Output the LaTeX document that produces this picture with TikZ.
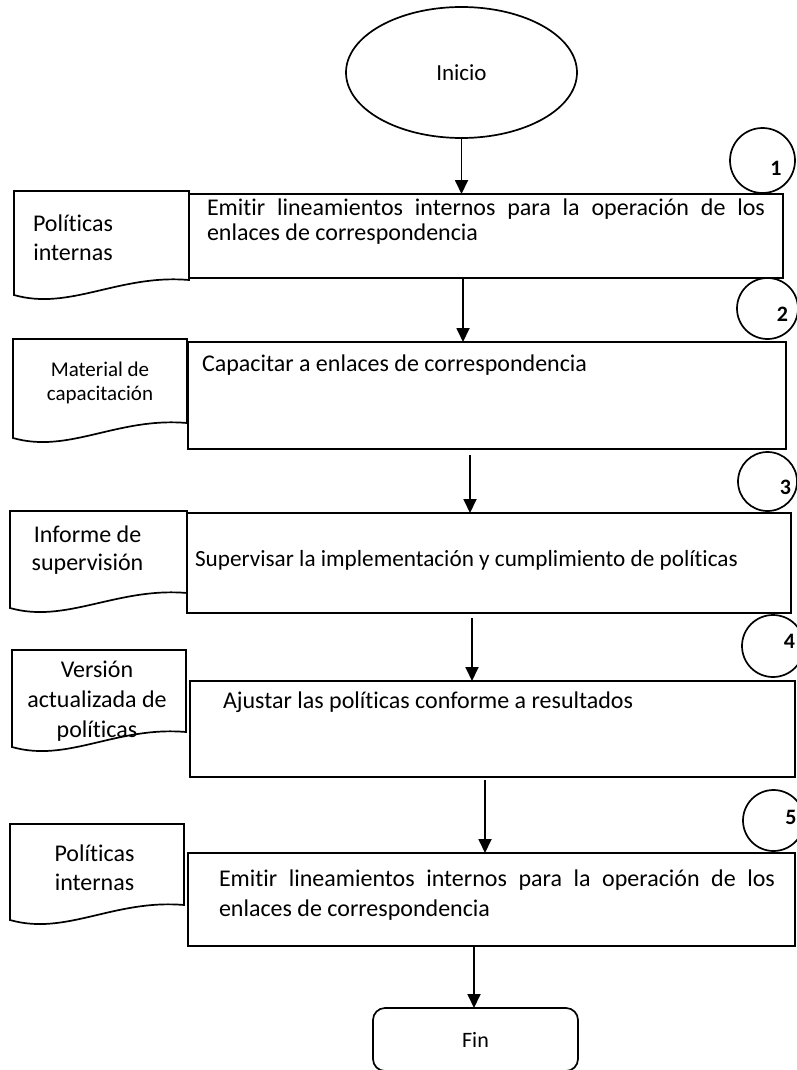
\documentclass[tikz,border=0pt]{standalone}
\usepackage{fontspec}
\setmainfont{Carlito}[Ligatures={NoCommon}]
\usetikzlibrary{arrows.meta,calc,shapes.geometric}
\newcommand\docoutline[1]{\draw[line] (#1.north west) -- (#1.north east) -- (#1.south east)
  .. controls ($(#1.south east)+(-70,-6)$) and ($(#1.south west)+(56,31)$) .. ($(#1.south west)+(0,15)$) -- cycle;}
\begin{document}
\hyphenpenalty=10000
\exhyphenpenalty=10000
\tolerance=9999
\emergencystretch=4em
\begin{tikzpicture}[x=1pt,y=-1pt,
  every node/.style={inner sep=0pt, outer sep=0pt},
  line/.style={draw=black, line width=1.7pt},
  procbox/.style={line, rectangle},
  docbox/.style={rectangle, draw=none},
  numcirc/.style={line, circle},
  numtxt/.style={font=\fontsize{22}{24}\selectfont\bfseries, anchor=base},
  arrow/.style={draw=black, line width=1.8pt, -{Triangle[length=14pt,width=13pt]}},
  bigtxt/.style={font=\fontsize{24}{#1}\selectfont},
  bigtxt/.default=24
]
\clip (0,0) rectangle (797,1070);
\fill[white] (0,0) rectangle (797,1070);

% start / end
\node[line, ellipse, minimum width=231pt, minimum height=131pt, font=\fontsize{23}{24}\selectfont] (inicio) at (461.5,72.5) {Inicio};
\node[line, rectangle, rounded corners=12pt, minimum width=205pt, minimum height=63pt, font=\fontsize{22}{24}\selectfont] (fin) at (475.5,1039.5) {Fin};

% process boxes
\node[procbox, minimum width=594pt, minimum height=84pt]  (b1) at (486,236) {};
\node[procbox, minimum width=598pt, minimum height=107pt] (b2) at (487,395.5) {};
\node[procbox, minimum width=604pt, minimum height=100pt] (b3) at (489,563) {};
\node[procbox, minimum width=605pt, minimum height=96pt]  (b4) at (492.5,729) {};
\node[procbox, minimum width=607pt, minimum height=93pt]  (b5) at (491.5,899.5) {};

\node[bigtxt=24.5, text width=558pt, align=justify, anchor=west] (b1t) at (207,221.5)
  {Emitir lineamientos internos para la operación de los enlaces de correspondencia};
\node[bigtxt, anchor=base west] (b2t) at (202,371) {Capacitar a enlaces de correspondencia};
\node[font=\fontsize{23.2}{24}\selectfont, anchor=base west] (b3t) at (195,566) {Supervisar la implementación y cumplimiento de políticas};
\node[bigtxt, anchor=base west] (b4t) at (223,708) {Ajustar las políticas conforme a resultados};
\node[bigtxt=30, text width=556pt, align=justify, anchor=west] (b5t) at (219,895)
  {Emitir lineamientos internos para la operación de los enlaces de correspondencia};

% documents
\node[docbox, minimum width=175pt, minimum height=89pt] (d1) at (101.5,235.5) {};
\node[docbox, minimum width=174pt, minimum height=84pt] (d2) at (100,381) {};
\node[docbox, minimum width=177pt, minimum height=82pt] (d3) at (98.5,552) {};
\node[docbox, minimum width=174pt, minimum height=82pt] (d4) at (99,691) {};
\node[docbox, minimum width=174pt, minimum height=81pt] (d5) at (97,864.5) {};
\docoutline{d1}
\docoutline{d2}
\docoutline{d3}
\docoutline{d4}
\docoutline{d5}

\node[bigtxt=29, align=center] (d1t) at (73,237.5) {Políticas\\internas};
\node[font=\fontsize{21}{24}\selectfont, align=center] (d2t) at (100,383) {Material de\\capacitación};
\node[bigtxt=28, align=center] (d3t) at (87.5,550.5) {Informe de\\supervisión};
\node[bigtxt=30, align=center] (d4t) at (97,701) {Versión\\actualizada de\\políticas};
\node[bigtxt=29, align=center] (d5t) at (94.5,867.5) {Políticas\\internas};

% step numbers
\node[numcirc, minimum size=65pt] (c1) at (762.5,160.5) {};
\node[numcirc, minimum size=61pt] (c2) at (767.5,308.5) {};
\node[numcirc, minimum size=59pt] (c3) at (767.5,481.5) {};
\node[numcirc, minimum size=62pt] (c4) at (773,646) {};
\node[numcirc, minimum size=61pt] (c5) at (773.5,820.5) {};
\node[numtxt] (n1) at (776,175) {1};
\node[numtxt] (n2) at (782.5,321) {2};
\node[numtxt] (n3) at (785.5,494) {3};
\node[numtxt] (n4) at (789.5,648) {4};
\node[numtxt] (n5) at (791,824) {5};

% connectors
\coordinate (x2) at (463,0);
\coordinate (s3) at (470,455);
\coordinate (s4) at (472,618);
\coordinate (s5) at (485,780);
\coordinate (x6) at (474,0);
\draw[arrow] (inicio.south) -- (inicio.south |- b1.north);
\draw[arrow] (x2 |- b1.south) -- (x2 |- b2.north);
\draw[arrow] (s3) -- (s3 |- b3.north);
\draw[arrow] (s4) -- (s4 |- b4.north);
\draw[arrow] (s5) -- (s5 |- b5.north);
\draw[arrow] (x6 |- b5.south) -- (x6 |- fin.north);
\end{tikzpicture}
\end{document}
